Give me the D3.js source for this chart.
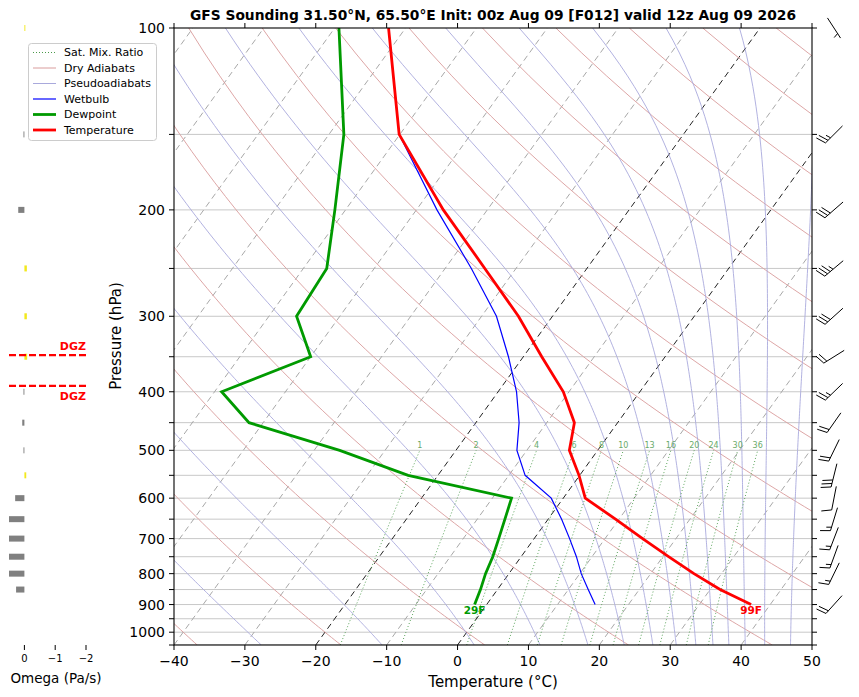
<!DOCTYPE html>
<html>
<head>
<meta charset="utf-8">
<script src="https://cdn.jsdelivr.net/npm/d3@7"></script>
<style>
body { margin: 0; background: #fff; }
text { font-family: "DejaVu Sans", sans-serif; }
</style>
</head>
<body>
<div id="chart"></div>
<script>
// sounding levels (hPa) and profiles (deg C)
var levels = [900, 850, 800, 750, 700, 650, 600, 550, 500, 450, 400, 350, 300, 250, 200, 150, 100];
var tempC = [37.3, 31.4, 26.1, 20.8, 15.3, 9.5, 3.1, -0.1, -4.0, -6.1, -10.8, -17.4, -24.8, -34.4, -46.2, -60.1, -72.4];
var dewC = [-1.7, -2.4, -3.3, -4.0, -5.0, -6.1, -7.3, -24.2, -36.4, -52.0, -59.0, -50.0, -56.1, -56.7, -61.5, -67.9, -79.4];
var wetC = [15.3, 12.8, 10.2, 7.8, 5.0, 1.9, -1.7, -7.7, -11.4, -13.9, -17.4, -22.1, -27.9, -36.3, -47.1, -60.1, -72.4];

// wind barbs
var barbLevels = [100, 150, 200, 250, 300, 350, 400, 450, 500, 550, 600, 650, 700, 750, 800, 900];
var windDir = [147, 225, 229, 230, 228, 238, 226, 215, 206, 194, 191, 197, 201, 200, 206, 222];
var windSpd = [5, 25, 30, 35, 30, 20, 25, 20, 20, 30, 10, 15, 15, 15, 15, 20];

// omega (Pa/s)
var omegaLevels = [100, 150, 200, 250, 300, 350, 400, 450, 500, 550, 600, 650, 700, 750, 800, 850];
var omegaVals = [-0.03, 0.03, 0.2, -0.08, -0.08, -0.09, 0.03, 0.07, 0.03, -0.06, 0.3, 0.5, 0.5, 0.5, 0.5, 0.27];
var dgzLevels = [348, 391];

// reference lines
var mixRatios = [1, 2, 4, 6, 8, 10, 13, 16, 20, 24, 30, 36];
var tempTicks = [-40, -30, -20, -10, 0, 10, 20, 30, 40, 50];
var presTicks = [100, 200, 300, 400, 500, 600, 700, 800, 900, 1000];
var omegaTicks = [0, -1, -2];

var title = "GFS Sounding 31.50°N, 65.50°E Init: 00z Aug 09 [F012] valid 12z Aug 09 2026";

var svg = d3.select("#chart").append("svg")
    .attr("width", 859)
    .attr("height", 697);

var xT = d3.scaleLinear().domain([-40, 50]).range([174, 812]);
var yP = d3.scaleLog().domain([1050, 100]).range([645, 28]);
var skew = 0.72;
function sx(t, p) { return xT(t) + skew * (yP(1050) - yP(p)); }

var line = d3.line().x(function (d) { return sx(d.t, d.p); }).y(function (d) { return yP(d.p); });

svg.append("clipPath").attr("id", "clip")
    .append("rect").attr("x", 174).attr("y", 28).attr("width", 638).attr("height", 617);

var plot = svg.append("g").attr("clip-path", "url(#clip)");

// horizontal grid
d3.range(150, 1051, 50).forEach(function (p) {
    plot.append("line")
        .attr("x1", 174).attr("x2", 812)
        .attr("y1", yP(p)).attr("y2", yP(p))
        .attr("stroke", "#c8c8c8").attr("stroke-width", 1);
});

// isotherms
d3.range(-120, 51, 10).forEach(function (t) {
    var dark = (t === 0 || t === -20);
    plot.append("line")
        .attr("x1", sx(t, 1050)).attr("y1", yP(1050))
        .attr("x2", sx(t, 100)).attr("y2", yP(100))
        .attr("stroke", dark ? "#222" : "#a8a8a8")
        .attr("stroke-width", 1)
        .attr("stroke-dasharray", "6,4");
});

var pres = d3.range(1050, 99, -10);

// dry adiabats
d3.range(-40, 241, 20).forEach(function (th) {
    var pts = pres.map(function (p) {
        return { p: p, t: (th + 273.15) * Math.pow(p / 1000, 0.2857) - 273.15 };
    });
    plot.append("path").attr("d", line(pts))
        .attr("fill", "none").attr("stroke", "#d99c9c").attr("stroke-width", 0.9);
});

// pseudoadiabats
var Rd = 287.04, Cp = 1005.7, Lv = 2.501e6, eps = 0.622;
function dTdp(p, T) {
    var tc = T - 273.15;
    var es = 6.112 * Math.exp(17.67 * tc / (tc + 243.5));
    var rs = eps * es / (p - es);
    return (Rd * T + Lv * rs) / (Cp + Lv * Lv * rs * eps / (Rd * T * T)) / p;
}
d3.range(243.15, 604, 20).forEach(function (th) {
    var p = 100, T = th * Math.pow(0.1, 0.2857), h = 5;
    var pts = [{ p: p, t: T - 273.15 }];
    while (p < 1050) {
        var k1 = dTdp(p, T);
        var k2 = dTdp(p + h / 2, T + h / 2 * k1);
        var k3 = dTdp(p + h / 2, T + h / 2 * k2);
        var k4 = dTdp(p + h, T + h * k3);
        T += h / 6 * (k1 + 2 * k2 + 2 * k3 + k4);
        p += h;
        pts.push({ p: p, t: T - 273.15 });
    }
    plot.append("path").attr("d", line(pts))
        .attr("fill", "none").attr("stroke", "#a9a9dc").attr("stroke-width", 0.9);
});

// saturation mixing ratio lines
function tdFromW(w, p) {
    var e = (w / 1000) * p / (eps + w / 1000);
    var l = Math.log(e / 6.112);
    return 243.5 * l / (17.67 - l);
}
mixRatios.forEach(function (w) {
    var pts = d3.range(1050, 499, -10).map(function (p) { return { p: p, t: tdFromW(w, p) }; });
    plot.append("path").attr("d", line(pts))
        .attr("fill", "none").attr("stroke", "#4a9a4a").attr("stroke-width", 0.9)
        .attr("stroke-dasharray", "1,2.2");
    plot.append("text")
        .attr("x", sx(tdFromW(w, 500), 500)).attr("y", yP(500) - 2)
        .attr("text-anchor", "middle").attr("font-size", 8)
        .attr("fill", "#6aaa6a").text(w);
});

// profiles
function prof(vals) { return levels.map(function (p, i) { return { p: p, t: vals[i] }; }); }
plot.append("path").attr("d", line(prof(wetC)))
    .attr("fill", "none").attr("stroke", "#0000ff").attr("stroke-width", 1.2);
plot.append("path").attr("d", line(prof(dewC)))
    .attr("fill", "none").attr("stroke", "#009a00").attr("stroke-width", 2.8);
plot.append("path").attr("d", line(prof(tempC)))
    .attr("fill", "none").attr("stroke", "#ff0000").attr("stroke-width", 2.8);

// surface labels (F)
function toF(c) { return Math.round(c * 9 / 5 + 32) + "F"; }
svg.append("text").attr("x", sx(dewC[0], levels[0])).attr("y", yP(levels[0]) + 9)
    .attr("text-anchor", "middle").attr("font-size", 10.5).attr("font-weight", "bold")
    .attr("fill", "#009a00").text(toF(dewC[0]));
svg.append("text").attr("x", sx(tempC[0], levels[0])).attr("y", yP(levels[0]) + 9)
    .attr("text-anchor", "middle").attr("font-size", 10.5).attr("font-weight", "bold")
    .attr("fill", "#ff0000").text(toF(tempC[0]));

// frame and ticks
svg.append("rect").attr("x", 174).attr("y", 28).attr("width", 638).attr("height", 617)
    .attr("fill", "none").attr("stroke", "#000").attr("stroke-width", 1.1);

d3.range(100, 1051, 50).forEach(function (p) {
    svg.append("line").attr("x1", 169).attr("x2", 174).attr("y1", yP(p)).attr("y2", yP(p))
        .attr("stroke", "#000");
    svg.append("line").attr("x1", 812).attr("x2", 817).attr("y1", yP(p)).attr("y2", yP(p))
        .attr("stroke", "#000");
});
presTicks.forEach(function (p) {
    svg.append("text").attr("x", 165).attr("y", yP(p)).attr("dy", "0.36em")
        .attr("text-anchor", "end").attr("font-size", 14).text(p);
});
var fmt = d3.format("d");
tempTicks.forEach(function (t) {
    svg.append("line").attr("x1", xT(t)).attr("x2", xT(t)).attr("y1", 645).attr("y2", 650)
        .attr("stroke", "#000");
    svg.append("line").attr("x1", xT(t)).attr("x2", xT(t)).attr("y1", 23).attr("y2", 28)
        .attr("stroke", "#000");
    svg.append("text").attr("x", xT(t)).attr("y", 666)
        .attr("text-anchor", "middle").attr("font-size", 14).text(fmt(t));
});

svg.append("text").attr("x", 493).attr("y", 687).attr("text-anchor", "middle")
    .attr("font-size", 15).text("Temperature (°C)");
svg.append("text").attr("transform", "translate(121,336) rotate(-90)")
    .attr("text-anchor", "middle").attr("font-size", 15).text("Pressure (hPa)");
svg.append("text").attr("x", 493).attr("y", 20).attr("text-anchor", "middle")
    .attr("font-size", 13.8).attr("font-weight", "bold").text(title);

// wind barbs
var barbs = svg.append("g").attr("stroke", "#000").attr("stroke-width", 1).attr("fill", "none");
barbLevels.forEach(function (p, i) {
    var b = windDir[i] * Math.PI / 180;
    var L = 24, H = 10, sp = 3.6, W = 3;
    var ax = Math.sin(b), ay = -Math.cos(b);   // toward tip
    var px = -ay, py = ax;                     // feather side
    var cx = 834, cy = yP(p);
    var tx = cx + ax * L / 2, ty = cy + ay * L / 2;
    barbs.append("line").attr("x1", cx - ax * L / 2).attr("y1", cy - ay * L / 2)
        .attr("x2", tx).attr("y2", ty);
    var full = Math.floor(windSpd[i] / 10), half = (windSpd[i] % 10) >= 5 ? 1 : 0;
    var off = 0;
    for (var k = 0; k < full; k++) {
        var bx = tx - ax * off, by = ty - ay * off;
        barbs.append("line").attr("x1", bx).attr("y1", by)
            .attr("x2", bx + px * H + ax * W).attr("y2", by + py * H + ay * W);
        off += sp;
    }
    if (half) {
        if (full === 0) off += 1.5 * sp;
        var hx = tx - ax * off, hy = ty - ay * off;
        barbs.append("line").attr("x1", hx).attr("y1", hy)
            .attr("x2", hx + px * H / 2 + ax * W / 2).attr("y2", hy + py * H / 2 + ay * W / 2);
    }
});

// omega panel
var xO = d3.scaleLinear().domain([0.5, -2]).range([9, 86]);
omegaLevels.forEach(function (p, i) {
    var v = omegaVals[i];
    svg.append("rect")
        .attr("x", Math.min(xO(0), xO(v))).attr("width", Math.abs(xO(v) - xO(0)))
        .attr("y", yP(p) - 3).attr("height", 6)
        .attr("fill", v > 0 ? "#808080" : "#f2e81e");
});
dgzLevels.forEach(function (p, i) {
    svg.append("line").attr("x1", 9).attr("x2", 86).attr("y1", yP(p)).attr("y2", yP(p))
        .attr("stroke", "#ff0000").attr("stroke-width", 2.2).attr("stroke-dasharray", "7,3");
    svg.append("text").attr("x", 86).attr("y", i === 0 ? yP(p) - 5 : yP(p) + 14)
        .attr("text-anchor", "end").attr("font-size", 11).attr("font-weight", "bold")
        .attr("fill", "#ff0000").text("DGZ");
});
omegaTicks.forEach(function (v) {
    svg.append("line").attr("x1", xO(v)).attr("x2", xO(v)).attr("y1", 645).attr("y2", 650)
        .attr("stroke", "#000");
    svg.append("text").attr("x", xO(v)).attr("y", 662).attr("text-anchor", "middle")
        .attr("font-size", 10).text(fmt(v));
});
svg.append("text").attr("x", 56).attr("y", 683).attr("text-anchor", "middle")
    .attr("font-size", 13.5).text("Omega (Pa/s)");

// legend
var legItems = [
    { name: "Sat. Mix. Ratio", color: "#4a9a4a", w: 1, dash: "1,2" },
    { name: "Dry Adiabats", color: "#d99c9c", w: 1, dash: null },
    { name: "Pseudoadiabats", color: "#a9a9dc", w: 1, dash: null },
    { name: "Wetbulb", color: "#0000ff", w: 1.2, dash: null },
    { name: "Dewpoint", color: "#009a00", w: 2.8, dash: null },
    { name: "Temperature", color: "#ff0000", w: 2.8, dash: null }
];
var leg = svg.append("g");
leg.append("rect").attr("x", 28.5).attr("y", 43.5).attr("width", 128).attr("height", 97)
    .attr("rx", 3).attr("fill", "#fff").attr("fill-opacity", 0.85)
    .attr("stroke", "#cccccc");
legItems.forEach(function (d, i) {
    var yy = 52.5 + i * 15.5;
    leg.append("line").attr("x1", 33).attr("x2", 56).attr("y1", yy).attr("y2", yy)
        .attr("stroke", d.color).attr("stroke-width", d.w)
        .attr("stroke-dasharray", d.dash);
    leg.append("text").attr("x", 64).attr("y", yy).attr("dy", "0.35em")
        .attr("font-size", 11).text(d.name);
});
</script>
</body>
</html>
